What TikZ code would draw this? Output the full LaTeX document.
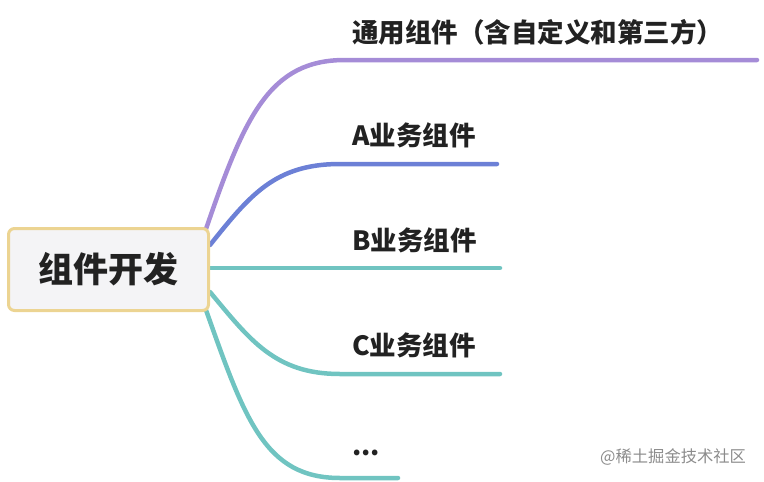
\documentclass[tikz,border=0pt]{standalone}
\usepackage{fontspec}
\setmainfont{Noto Sans CJK SC}
\newfontfamily\cjk{Noto Sans CJK SC}
\definecolor{cpurple}{RGB}{165,140,215}
\definecolor{cblue}{RGB}{108,128,214}
\definecolor{cteal}{RGB}{112,196,193}
\definecolor{cborder}{RGB}{236,212,146}
\definecolor{cfill}{RGB}{244,244,246}
\definecolor{ctext}{RGB}{34,34,34}
\begin{document}
\begin{tikzpicture}[x=1pt,y=-1pt,
  branch/.style={line width=4.5pt,line cap=round},
  lbl/.style={anchor=west,inner sep=0pt,font=\cjk\bfseries\fontsize{26.5}{30}\selectfont,text=ctext},
  rootbox/.style={draw=cborder,fill=cfill,line width=3pt,rounded corners=6pt,minimum width=200pt,minimum height=82pt,font=\cjk\bfseries\fontsize{35}{40}\selectfont,text=ctext}]
\useasboundingbox (0,0) rectangle (764,482);
% end coordinates
\coordinate (e1) at (757,60);
\coordinate (e2) at (497,164);
\coordinate (e3) at (500,268);
\coordinate (e4) at (500,374);
\coordinate (e5) at (398,478);
\coordinate (s1) at (206,229);
\coordinate (s2) at (210,245);
\coordinate (s3) at (210,268);
\coordinate (s4) at (210,292);
\coordinate (s5) at (206,310);
% branches
\draw[branch,cpurple] (s1) .. controls (245,115) and (270,60) .. (345,60) -- (e1);
\draw[branch,cblue] (s2) .. controls (250,195) and (275,164) .. (340,164) -- (e2);
\draw[branch,cteal] (s3) -- (e3);
\draw[branch,cteal] (s4) .. controls (250,340) and (275,374) .. (340,374) -- (e4);
\draw[branch,cteal] (s5) .. controls (245,420) and (265,478) .. (340,478) -- (e5);
% root
\node[rootbox] (root) at (108.5,269.5) {组件开发};
% labels
\node[lbl] (l1) at (352,32) {通用组件（含自定义和第三方）};
\node[lbl] (l2) at (352,135) {A业务组件};
\node[lbl] (l3) at (352,240) {B业务组件};
\node[lbl] (l4) at (352,345) {C业务组件};
\node[lbl] (l5) at (352,453) {...};
% watermark
\node[anchor=west,inner sep=0pt,font=\cjk\fontsize{16.3}{19}\selectfont,text=black!45] (wm) at (600,457) {@稀土掘金技术社区};
\end{tikzpicture}
\end{document}
